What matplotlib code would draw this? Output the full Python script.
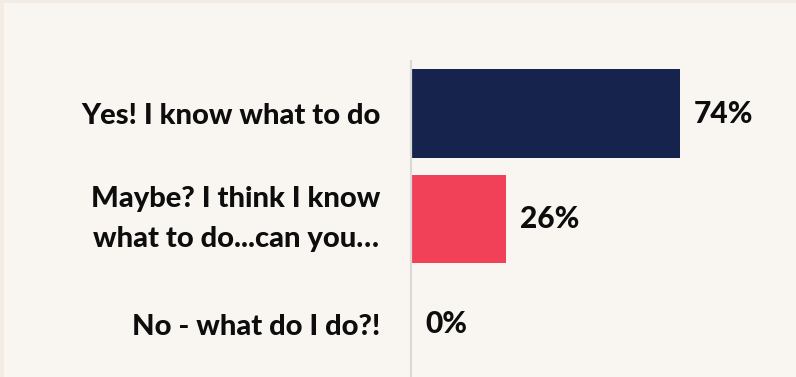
import matplotlib
matplotlib.use("Agg")
import matplotlib.pyplot as plt
from matplotlib.patches import Rectangle

categories = ["Yes! I know what to do",
              "Maybe? I think I know\nwhat to do...can you\u2026",
              "No - what do I do?!"]
values = [74, 26, 0]
bar_colors = ["#16244d", "#f04158", "#16244d"]

BG_OUTER = "#f3ece5"
BG_INNER = "#f9f6f2"
FONT = "Lato"

fig = plt.figure(figsize=(7.96, 3.77), dpi=100, facecolor=BG_OUTER)
W, H = 796, 377

# inner panel with thin outer frame at top and left
fig.patches.append(Rectangle((4 / W, 0), 1, 1 - 3 / H, transform=fig.transFigure,
                             facecolor=BG_INNER, edgecolor="none", zorder=-10))

ax = fig.add_axes([411 / W, 0, (775 - 411) / W, (377 - 61) / H])
ax.set_facecolor("none")
ax.set_zorder(1)

y = list(range(len(categories)))
ax.barh(y, values, height=0.84, color=bar_colors, zorder=2)
ax.set_xlim(0, 100)
ax.set_ylim(2.5, -0.5)

for s in ["top", "right", "bottom"]:
    ax.spines[s].set_visible(False)
ax.spines["left"].set_color("#d9d9d9")
ax.spines["left"].set_linewidth(1.6)
ax.set_xticks([])
ax.set_yticks(y)
labels = ax.set_yticklabels(categories, fontsize=21, fontweight=900, family=FONT,
                            color="#0d0d0d", multialignment="center",
                            linespacing=1.65)
for lbl in labels:
    if "\n" in lbl.get_text():
        lbl.set_verticalalignment("center")
ax.tick_params(axis="y", length=0, pad=22)

for yi, v in zip(y, values):
    ax.annotate(f"{v}%", (v, yi), xytext=(10, 0), textcoords="offset points",
                ha="left", va="center", fontsize=21.5, fontweight=900,
                family=FONT, color="#0d0d0d")

fig.savefig("out.png", dpi=100, facecolor=BG_OUTER)
